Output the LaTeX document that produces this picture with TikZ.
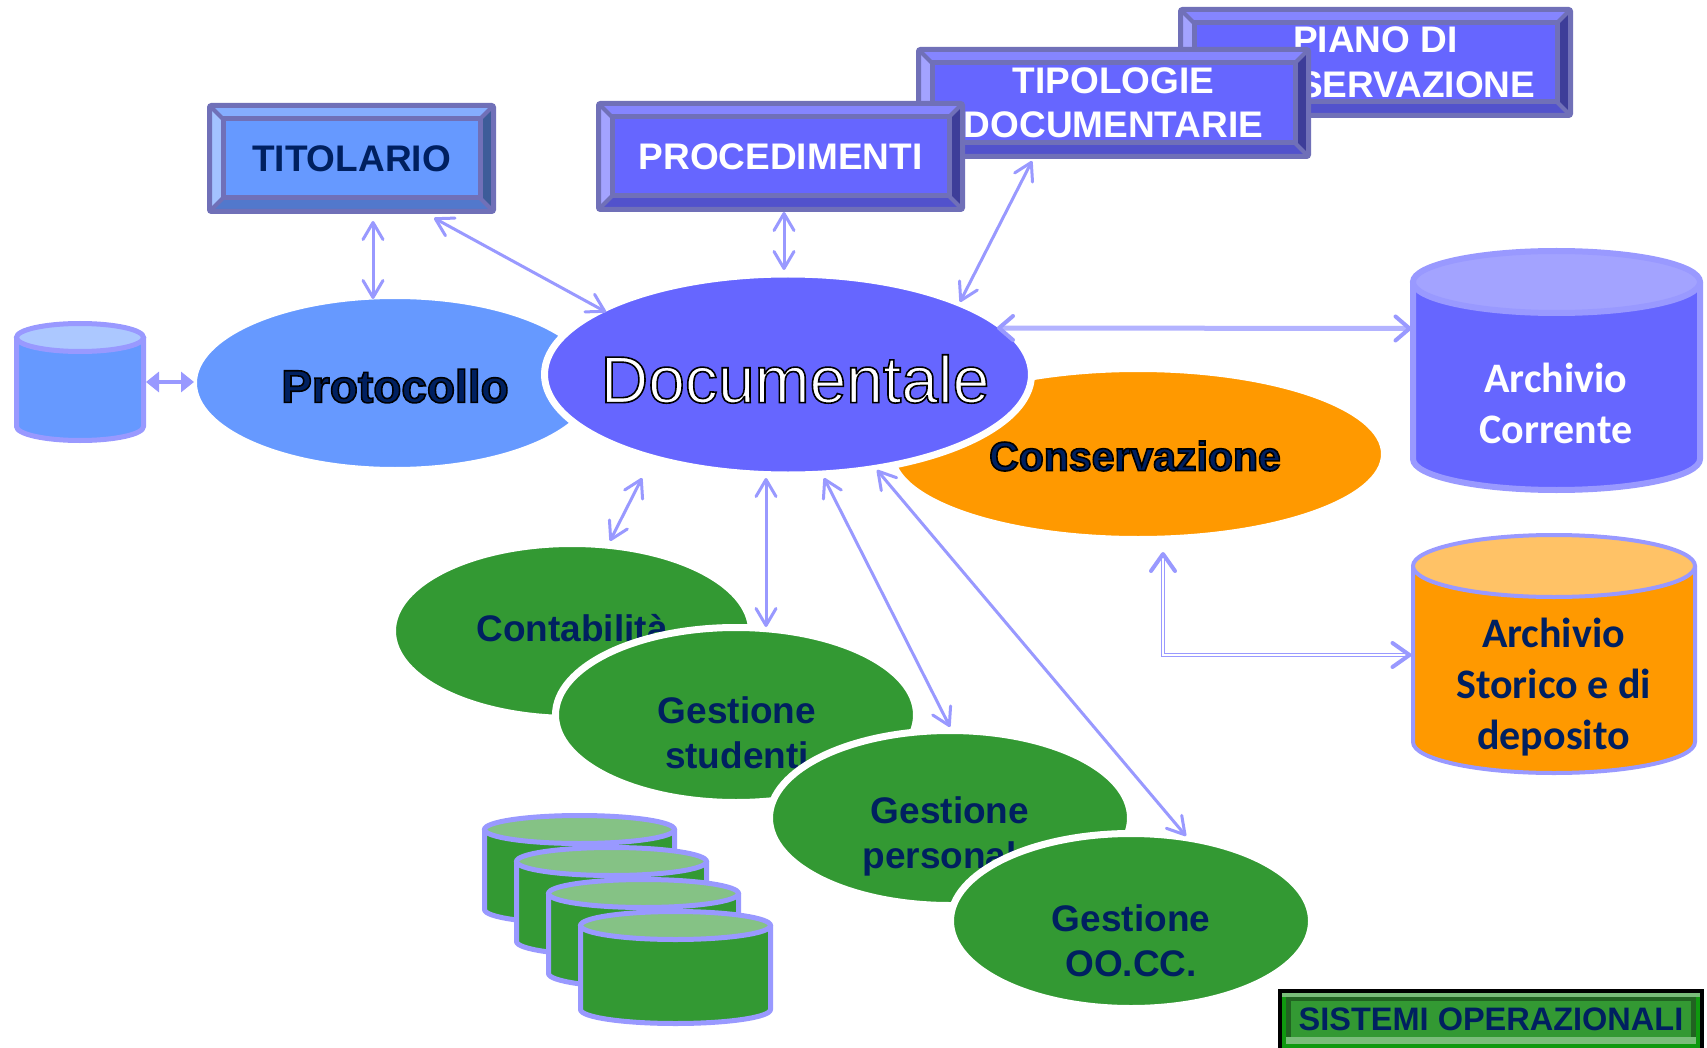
\documentclass[tikz,border=0pt]{standalone}
\usepackage{fontspec}
\setmainfont{Liberation Sans}
\newfontfamily\calibrif{Carlito}
\usetikzlibrary{arrows.meta,shapes.geometric,calc}
\definecolor{arrowc}{HTML}{9999FF}
\definecolor{arrowl}{HTML}{B3B3FF}
\definecolor{navy}{HTML}{002060}
\definecolor{bevelline}{HTML}{7070B8}
\definecolor{bluef}{HTML}{6699FF}
\definecolor{bluet}{HTML}{85ADFF}
\definecolor{bluel}{HTML}{A3C2FF}
\definecolor{bluer}{HTML}{3D5C99}
\definecolor{blueb}{HTML}{5278CC}
\definecolor{purpf}{HTML}{6666FF}
\definecolor{purpt}{HTML}{8585FF}
\definecolor{purpl}{HTML}{A3A3FF}
\definecolor{purpr}{HTML}{3D3D99}
\definecolor{purpb}{HTML}{5252CC}
\definecolor{orangef}{HTML}{FF9900}
\definecolor{oranget}{HTML}{FFC266}
\definecolor{greenf}{HTML}{339933}
\definecolor{greent}{HTML}{85C285}
\tikzset{
  conn/.style={draw=arrowc,line width=3pt,{Straight Barb[length=17pt,width=20pt,line width=3pt,round]}-{Straight Barb[length=17pt,width=20pt,line width=3pt,round]}},
  connwide/.style={draw=arrowl,line width=5pt,{Straight Barb[arrowc,length=14pt,width=24pt,line width=4pt,round]}-{Straight Barb[arrowc,length=14pt,width=24pt,line width=4pt,round]}},
  conndouble/.style={draw=arrowc,line width=1.5pt,double=white,double distance=1.6pt,{Straight Barb[length=17pt,width=24pt,line width=4pt,round]}-{Straight Barb[length=17pt,width=24pt,line width=4pt,round]}},
  connfat/.style={draw=arrowc,line width=4.5pt,{Triangle[length=13pt,width=20pt]}-{Triangle[length=13pt,width=20pt]}},
  oval/.style={ellipse,draw=white,line width=7pt,inner sep=0pt,minimum width=#1},
  plainlabel/.style={inner sep=0pt,align=center,font=\bfseries\fontsize{37}{45}\selectfont,text=navy},
  calibrilabel/.style={inner sep=0pt,align=center,font=\calibrif\bfseries\fontsize{42}{51}\selectfont},
}
\newcommand{\outlinetxt}[2]{\special{pdf:code q #1 w 0 0 0 RG 2 Tr}#2\special{pdf:code Q}}
% name x1 y1 x2 y2 colourprefix textcolour text
\newcommand{\bevelbox}[8]{%
  \pgfmathsetmacro\bwA{#4-#2-5}\pgfmathsetmacro\bhA{#5-#3-5}%
  \fill[#6f] (#2+2,#3+2) rectangle (#4-2,#5-2);
  \fill[#6t] (#2+3,#3+3) -- (#4-3,#3+3) -- (#4-18,#3+18) -- (#2+18,#3+18) -- cycle;
  \fill[#6l] (#2+3,#3+3) -- (#2+18,#3+18) -- (#2+18,#5-18) -- (#2+3,#5-3) -- cycle;
  \fill[#6r] (#4-3,#3+3) -- (#4-18,#3+18) -- (#4-18,#5-18) -- (#4-3,#5-3) -- cycle;
  \fill[#6b] (#2+3,#5-3) -- (#2+18,#5-18) -- (#4-18,#5-18) -- (#4-3,#5-3) -- cycle;
  \draw[bevelline,line width=5pt,line join=round] (#2+16,#3+16) rectangle (#4-16,#5-16);
  \draw[bevelline,line width=4pt] (#2+3,#3+3) -- (#2+16,#3+16) (#4-3,#3+3) -- (#4-16,#3+16) (#2+3,#5-3) -- (#2+16,#5-16) (#4-3,#5-3) -- (#4-16,#5-16);
  \node[draw=bevelline,line width=5pt,rounded corners=2pt,inner sep=0pt,align=center,minimum width=\bwA pt,minimum height=\bhA pt,font=\bfseries\fontsize{37}{44.5}\selectfont,text=#7] (#1) at ({(#2+#4)/2},{(#3+#5)/2}) {#8};
}
% name xl xr ytop ybot ry fill topfill lw
\newcommand{\dbcyl}[9]{%
  \pgfmathsetmacro\cyXa{#2+#9/2}\pgfmathsetmacro\cyXb{#3-#9/2}%
  \pgfmathsetmacro\cyYt{#4+#9/2+#6}\pgfmathsetmacro\cyYb{#5-#9/2-#6}%
  \pgfmathsetmacro\cyRx{(#3-#2-#9)/2}\pgfmathsetmacro\cyXc{(#2+#3)/2}\pgfmathsetmacro\cyYc{(#4+#5)/2}%
  \pgfmathsetmacro\cyW{#3-#2}\pgfmathsetmacro\cyH{#5-#4}%
  \draw[arrowc,line width=#9pt,fill=#7,line join=round] (\cyXa,\cyYt) -- (\cyXa,\cyYb) arc[start angle=180,end angle=360,x radius=\cyRx pt,y radius=#6pt] -- (\cyXb,\cyYt) -- cycle;
  \draw[arrowc,line width=#9pt,fill=#8] (\cyXc,\cyYt) ellipse[x radius=\cyRx pt,y radius=#6pt];
  \node[inner sep=0pt,minimum width=\cyW pt,minimum height=\cyH pt] (#1) at (\cyXc,\cyYc) {};
}
\begin{document}
\begin{tikzpicture}[x=1pt,y=-1pt]
\useasboundingbox (0,0) rectangle (1707,1048);
\fill[white] (0,0) rectangle (1707,1048);

% rule boxes, back to front
\bevelbox{titolario}{207}{103}{496}{214}{blue}{navy}{TITOLARIO}
\bevelbox{piano}{1178}{7}{1573}{118}{purp}{white}{PIANO DI\\CONSERVAZIONE}
\bevelbox{tipologie}{916}{47}{1311}{159}{purp}{white}{TIPOLOGIE\\DOCUMENTARIE}
\bevelbox{procedimenti}{596}{101}{965}{212}{purp}{white}{PROCEDIMENTI}

% main ellipses
\node[oval=403pt,minimum height=175pt,fill=bluef] (protocollo) at (395,383) {};
\node[inner sep=0pt,font=\bfseries\fontsize{46}{50}\selectfont,text=navy] (protocollolabel) at (395,386) {\outlinetxt{1.6}{Protocollo}};
\node[oval=493pt,minimum height=171pt,fill=orangef] (conservazione) at (1138,454) {};
\node[inner sep=0pt,font=\bfseries\fontsize{41}{45}\selectfont,text=navy] (conservazionelabel) at (1135,456) {\outlinetxt{1.6}{Conservazione}};
\node[oval=487pt,minimum height=201pt,fill=purpf] (documentale) at (788,374.5) {};
\node[inner sep=0pt,font=\fontsize{66}{70}\selectfont,text=white] (documentalelabel) at (795,379) {\outlinetxt{1.6}{Documentale}};

% operational systems
\node[oval=359pt,minimum height=175pt,fill=greenf] (contabilita) at (572,631) {};
\node[plainlabel] (contabilitalabel) at (572,628) {Contabilità};
\node[oval=361pt,minimum height=175pt,fill=greenf] (studenti) at (736,715) {};
\node[plainlabel] (studentilabel) at (737,733) {Gestione\\studenti};
\node[oval=361pt,minimum height=175pt,fill=greenf] (personale) at (950,818) {};
\node[plainlabel] (personalelabel) at (950,836) {Gestione\\personale};
\node[oval=361pt,minimum height=175pt,fill=greenf] (oocc) at (1131,921) {};
\node[plainlabel] (oocclabel) at (1131,941) {Gestione\\OO.CC.};

% cylinders
\dbcyl{dbprot}{14}{146}{321}{443}{14}{bluef}{bluel!90!white}{5}
\dbcyl{corrente}{1410}{1703}{248}{493}{31}{purpf}{purpl}{6}
\node[calibrilabel,text=white] (correntelabel) at (1556,403) {Archivio\\Corrente};
\dbcyl{storico}{1411}{1697}{533}{775}{31}{orangef}{oranget}{4}
\node[calibrilabel,text=navy] (storicolabel) at (1553.5,687) {Archivio\\Storico e di\\deposito};
\dbcyl{dbopA}{482}{677}{813}{926}{14}{greenf}{greent}{5}
\dbcyl{dbopB}{514}{709}{845}{958}{14}{greenf}{greent}{5}
\dbcyl{dbopC}{546}{741}{877}{990}{14}{greenf}{greent}{5}
\dbcyl{dbopD}{578}{773}{909}{1026}{14}{greenf}{greent}{5}

% connectors
\draw[conn] ([shift={(21.5,62.5)}]titolario.center) -- ([shift={(-22,-84)}]protocollo.center);
\draw[conn] ([shift={(82.5,59.5)}]titolario.center) -- ([shift={(-182,-62.5)}]documentale.center);
\draw[conn] ([shift={(3.5,55.5)}]procedimenti.center) -- ([shift={(-4,-104.5)}]documentale.center);
\draw[conn] ([shift={(-81.5,58)}]tipologie.center) -- ([shift={(172,-72.5)}]documentale.center);
\draw[connwide] ([shift={(209,-46.5)}]documentale.center) -- ([shift={(-145,-42)}]corrente.center);
\draw[conndouble] ([shift={(25,98)}]conservazione.center) |- ([shift={(-142.5,1)}]storico.center);
\draw[connfat] ([shift={(66,0)}]dbprot.center) -- ([shift={(-201,-1)}]protocollo.center);
\draw[conn] ([shift={(-146,103.5)}]documentale.center) -- ([shift={(38,-90)}]contabilita.center);
\draw[conn] ([shift={(-22,103.5)}]documentale.center) -- ([shift={(30,-88)}]studenti.center);
\draw[conn] ([shift={(36,103.5)}]documentale.center) -- ([shift={(0,-91)}]personale.center);
\draw[conn] ([shift={(89,95.5)}]documentale.center) -- ([shift={(55,-85)}]oocc.center);

% legend
\fill[black] (1278,989) rectangle (1704,1048);
\fill[green!60!black!70!greenf] (1282,993) rectangle (1700,1048);
\fill[greenf!65!white] (1282,993) rectangle (1700,997);
\fill[greenf!65!black] (1286,997) rectangle (1696,1044);
\fill[greenf!65!white] (1286,1037) rectangle (1696,1044);
\node[fill=greenf,inner sep=0pt,minimum width=400pt,minimum height=36pt,text=navy,font=\bfseries\fontsize{32.5}{36}\selectfont] (sistemi) at (1491,1019) {SISTEMI OPERAZIONALI};
\end{tikzpicture}
\end{document}
